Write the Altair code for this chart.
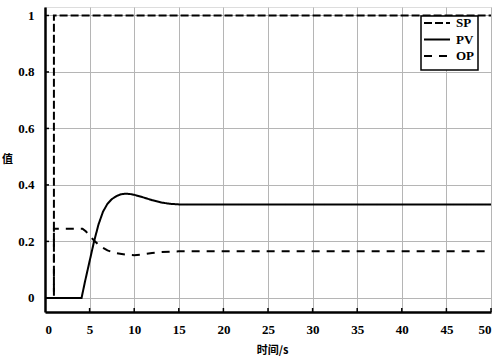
import altair as alt
import pandas as pd

# Data
sp_t = [0, 1, 1, 50]
sp_v = [0, 0, 1, 1]

pv_t = [0, 4.1, 4.5, 5, 5.5, 6, 6.5, 7, 7.5, 8, 8.5, 9, 9.5, 10, 11, 12, 13, 14, 15, 20, 30, 40, 50]
pv_v = [0, 0, 0.06, 0.13, 0.20, 0.26, 0.305, 0.333, 0.35, 0.36, 0.367, 0.369, 0.368, 0.365, 0.356, 0.346, 0.338, 0.333, 0.331, 0.331, 0.331, 0.331, 0.331]

op_t = [0, 1, 1, 4.2, 4.6, 5, 5.5, 6, 6.5, 7, 8, 9, 10, 11, 12, 13, 15, 20, 30, 40, 50]
op_v = [0, 0, 0.245, 0.245, 0.235, 0.22, 0.203, 0.188, 0.177, 0.168, 0.158, 0.153, 0.151, 0.154, 0.159, 0.162, 0.165, 0.165, 0.165, 0.165, 0.165]

series = ["SP", "PV", "OP"]
dashes = [[8, 3], [1, 0], [8, 7]]
x_ticks = [0, 5, 10, 15, 20, 25, 30, 35, 40, 45, 50]
y_ticks = [0, 0.2, 0.4, 0.6, 0.8, 1]

rows = []
for name, ts, vs in (("SP", sp_t, sp_v), ("PV", pv_t, pv_v), ("OP", op_t, op_v)):
    for i, (t, v) in enumerate(zip(ts, vs)):
        rows.append({"series": name, "t": t, "v": v, "i": i})
df = pd.DataFrame(rows)

W, H = 446, 305
FONT = "Times New Roman, Liberation Serif, serif"
CJK = "Noto Sans CJK SC"

xscale = alt.Scale(domain=[0, 50], nice=False, zero=False)
yscale = alt.Scale(domain=[-0.05, 1.03], nice=False, zero=False)

lines = alt.Chart(df).mark_line(color="black", strokeWidth=2).encode(
    x=alt.X("t:Q", scale=xscale,
            axis=alt.Axis(values=x_ticks, format="~g", title="时间/s", grid=True, gridColor="#b5b5b5",
                          gridWidth=1, domainColor="black", domainWidth=2.5, ticks=False,
                          labelFont=FONT, labelFontWeight="bold", labelFontSize=13,
                          labelColor="black", labelPadding=11,
                          titleFont=CJK, titleFontWeight="bold", titleFontSize=11,
                          titleColor="black", titleBaseline="middle", titleY=38, titleX=227)),
    y=alt.Y("v:Q", scale=yscale,
            axis=alt.Axis(values=y_ticks, format="~g", title="值", grid=True, gridColor="#b5b5b5",
                          gridWidth=1, domainColor="black", domainWidth=2.5, ticks=False,
                          labelFont=FONT, labelFontWeight="bold", labelFontSize=13,
                          labelColor="black", labelPadding=11,
                          titleFont=CJK, titleFontWeight="bold", titleFontSize=11,
                          titleColor="black", titleAngle=0, titleX=-38, titleY=157)),
    strokeDash=alt.StrokeDash("series:N",
                              scale=alt.Scale(domain=series, range=dashes),
                              legend=None),
    order="i:Q",
)

xt = pd.DataFrame({"t": x_ticks[1:]})
yt = pd.DataFrame({"v": y_ticks})
xtick = alt.Chart(xt).mark_rule(color="black", strokeWidth=1.5).encode(
    x=alt.X("t:Q", scale=xscale), y=alt.value(H), y2=alt.value(H - 4))
ytick = alt.Chart(yt).mark_rule(color="black", strokeWidth=1.5).encode(
    y=alt.Y("v:Q", scale=yscale), x=alt.value(0), x2=alt.value(4))

# Hand-made legend box (top right)
leg_df = pd.DataFrame({"series": series})
box = alt.Chart(leg_df.head(1)).mark_rect(fill="white", stroke="black", strokeWidth=1.5).encode(
    x=alt.value(376), x2=alt.value(433), y=alt.value(9), y2=alt.value(63))
legend_layers = [box]
for k, (name, dash) in enumerate(zip(series, dashes)):
    yk = 16 + 16.5 * k
    sub = leg_df[leg_df.series == name]
    legend_layers.append(
        alt.Chart(sub).mark_rule(color="black", strokeWidth=2, strokeDash=dash).encode(
            x=alt.value(379), x2=alt.value(405), y=alt.value(yk)))
    legend_layers.append(
        alt.Chart(sub).mark_text(align="left", baseline="middle", font=FONT, fontWeight="bold",
                                 fontSize=13, color="black").encode(
            text="series:N", x=alt.value(411), y=alt.value(yk)))

chart = alt.layer(lines, xtick, ytick, *legend_layers).properties(
    width=W, height=H,
    autosize=alt.AutoSizeParams(type="none"),
    padding={"left": 45, "top": 7, "right": 9, "bottom": 47},
).configure_view(stroke=None).configure(background="white")

chart.save("out.html", embed_options={"renderer": "svg", "actions": False})
